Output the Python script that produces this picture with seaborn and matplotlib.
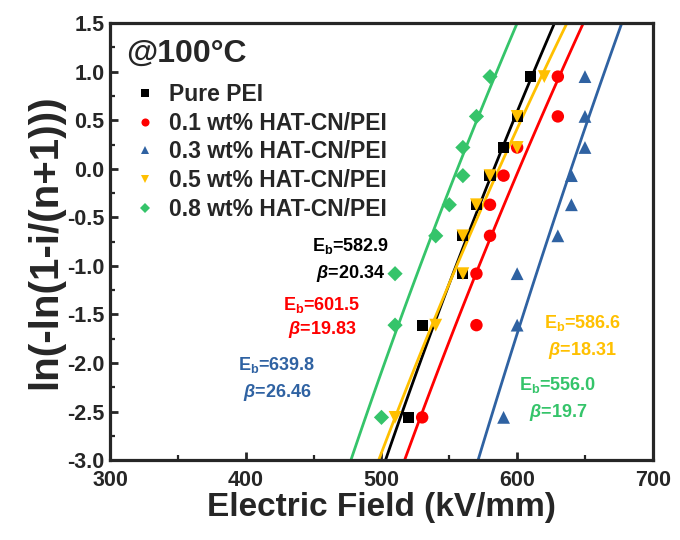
import numpy as np
import pandas as pd
import matplotlib
matplotlib.use("Agg")
import matplotlib.pyplot as plt
import seaborn as sns

# ---------------- data ----------------
series_names = ["Pure PEI", "0.1 wt% HAT-CN/PEI", "0.3 wt% HAT-CN/PEI",
                "0.5 wt% HAT-CN/PEI", "0.8 wt% HAT-CN/PEI"]
y_levels = [-2.56, -1.61, -1.08, -0.69, -0.37, -0.07, 0.22, 0.54, 0.95]
field_pure = [520, 530, 560, 560, 570, 580, 590, 600, 610]
field_01 = [530, 570, 570, 580, 580, 590, 600, 630, 630]
field_03 = [590, 600, 600, 630, 640, 640, 650, 650, 650]
field_05 = [510, 540, 560, 560, 570, 580, 600, 600, 620]
field_08 = [500, 510, 510, 540, 550, 560, 560, 570, 580]
eb_values = [582.9, 601.5, 639.8, 586.6, 556.0]
beta_values = [20.34, 19.83, 26.46, 18.31, 19.7]
beta_labels = ["20.34", "19.83", "26.46", "18.31", "19.7"]
eb_labels = ["582.9", "601.5", "639.8", "586.6", "556.0"]
x_ticks = [300, 400, 500, 600, 700]
y_ticks = [-3.0, -2.5, -2.0, -1.5, -1.0, -0.5, 0.0, 0.5, 1.0, 1.5]

colors = ["#000000", "#FF0000", "#2F62A2", "#FFC000", "#35C46A"]
markers = ["s", "o", "^", "v", "D"]
sizes = [65, 80, 85, 85, 60]
# annotation positions (data coords) for Eb / beta labels
ann_x = [477, 456, 423, 648, 630]
ann_y_eb = [-0.79, -1.40, -2.02, -1.59, -2.23]
ann_y_beta = [-1.075, -1.66, -2.30, -1.87, -2.51]

fields = [field_pure, field_01, field_03, field_05, field_08]
df = pd.DataFrame({
    "E": np.concatenate(fields),
    "Y": np.tile(y_levels, len(series_names)),
    "Sample": np.repeat(series_names, len(y_levels)),
})

# ---------------- style ----------------
sns.set_theme(style="ticks")
plt.rcParams["font.family"] = ["Liberation Sans", "DejaVu Sans"]
plt.rcParams["font.weight"] = "bold"
plt.rcParams["mathtext.fontset"] = "custom"
plt.rcParams["mathtext.rm"] = "Liberation Sans:bold"
plt.rcParams["mathtext.bf"] = "Liberation Sans:bold"
plt.rcParams["mathtext.it"] = "Liberation Sans:bold:italic"

fig = plt.figure(figsize=(6.8, 5.4), dpi=100)
ax = fig.add_axes([0.162, 0.148, 0.798, 0.809])

# fitted Weibull lines from the given Eb and beta
yy = np.linspace(-3.3, 1.8, 50)
for name, eb, b, c in zip(series_names, eb_values, beta_values, colors):
    sns.lineplot(x=eb * np.exp(yy / b), y=yy, color=c, lw=2.0, ax=ax,
                 sort=False, legend=False, zorder=2)

sns.scatterplot(data=df, x="E", y="Y", hue="Sample", style="Sample",
                hue_order=series_names, style_order=series_names,
                palette=dict(zip(series_names, colors)),
                markers=dict(zip(series_names, markers)),
                size="Sample", sizes=dict(zip(series_names, sizes)),
                linewidth=0, ax=ax, zorder=3)

ax.set_xlim(300, 700)
ax.set_ylim(-3.0, 1.5)
ax.set_xticks(x_ticks)
ax.set_yticks(y_ticks)
ax.set_xticklabels([str(v) for v in x_ticks])
ax.set_yticklabels([f"{v:.1f}" for v in y_ticks])
ax.set_xticks(np.arange(350, 700, 100), minor=True)
ax.set_yticks(np.arange(-2.75, 1.5, 0.5), minor=True)
ax.tick_params(axis="both", which="major", direction="in", length=6, width=2.0,
               labelsize=15.5)
ax.tick_params(axis="x", which="major", pad=7)
ax.tick_params(axis="y", which="major", pad=4)
ax.tick_params(axis="both", which="minor", direction="in", length=3.5, width=1.6)
for lab in ax.get_xticklabels() + ax.get_yticklabels():
    lab.set_fontweight("bold")
for sp in ax.spines.values():
    sp.set_linewidth(2.3)
    sp.set_visible(True)

ax.set_xlabel("Electric Field (kV/mm)", fontsize=24, fontweight="bold", labelpad=1)
ax.set_ylabel("ln(-ln(1-i/(n+1)))", fontsize=29, fontweight="bold", labelpad=2)

# legend
handles, labels = ax.get_legend_handles_labels()
leg = ax.legend(handles[-5:], labels[-5:], loc="upper left",
                bbox_to_anchor=(0.005, 0.9), frameon=False,
                prop={"size": 16.5, "weight": "bold"},
                handletextpad=0.35, labelspacing=0.25, markerscale=0.65,
                borderaxespad=0.3, handlelength=1.4)

ax.text(0.03, 0.93, "@100°C", transform=ax.transAxes, fontsize=23,
        fontweight="bold", va="center", ha="left")

for i in range(5):
    ax.text(ann_x[i], ann_y_eb[i], r"E$_{\mathrm{b}}$=" + eb_labels[i],
            color=colors[i], fontsize=13, fontweight="bold",
            ha="center", va="center")
    ax.text(ann_x[i], ann_y_beta[i], r"$\mathit{\beta}$=" + beta_labels[i],
            color=colors[i], fontsize=13, fontweight="bold",
            ha="center", va="center")

fig.savefig("out.png", dpi=100)
